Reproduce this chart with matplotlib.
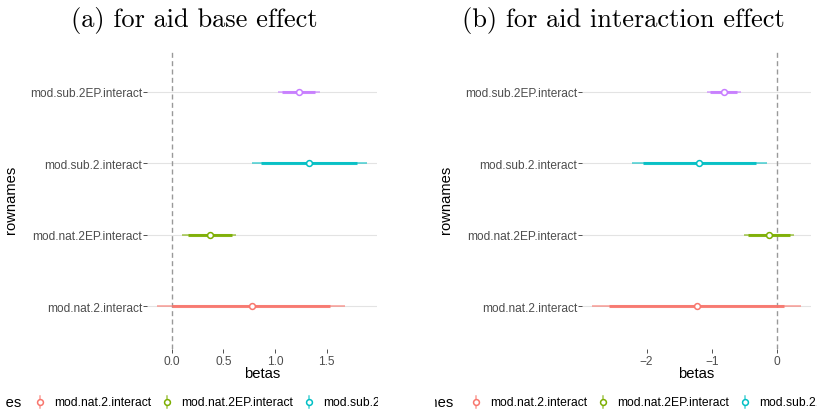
import numpy as np
import matplotlib
matplotlib.use("Agg")
import matplotlib.pyplot as plt

plt.rcParams["font.family"] = ["Liberation Sans", "DejaVu Sans"]

# coefficient rows (bottom to top) and their ggplot hue colours
rows   = ["mod.nat.2.interact", "mod.nat.2EP.interact",
          "mod.sub.2.interact", "mod.sub.2EP.interact"]
colors = ["#F8766D", "#7CAE00", "#00BFC4", "#C77CFF"]

# (a) base effect: estimate, 95% and 90% intervals
base_est  = [0.774, 0.365, 1.326, 1.23]
base_lo95 = [-0.139, 0.103, 0.774, 1.03]
base_hi95 = [1.68, 0.626, 1.885, 1.43]
base_lo90 = [0.006, 0.152, 0.861, 1.07]
base_hi90 = [1.536, 0.578, 1.794, 1.39]

# (b) interaction effect
int_est  = [-1.23, -0.118, -1.19, -0.812]
int_lo95 = [-2.83, -0.50, -2.22, -1.077]
int_hi95 = [0.363, 0.26, -0.158, -0.557]
int_lo90 = [-2.57, -0.44, -2.05, -1.026]
int_hi90 = [0.107, 0.20, -0.322, -0.618]

W, H = 817, 414
fig = plt.figure(figsize=(W / 100, H / 100), dpi=100)


def px_axes(x0, y0, x1, y1):
    # axes from pixel box (top-left origin)
    return fig.add_axes([x0 / W, 1 - y1 / H, (x1 - x0) / W, (y1 - y0) / H])


def coefplot(ax, est, lo95, hi95, lo90, hi90, ticks, fmt):
    ypos = np.arange(1, len(rows) + 1)
    ax.axvline(0, color="#999999", lw=1.0, ls=(0, (3.6, 2.4)), zorder=1)
    for i, y in enumerate(ypos):
        c = colors[i]
        ax.plot([lo95[i], hi95[i]], [y, y], color=c, lw=1.3, alpha=0.6,
                solid_capstyle="butt", zorder=2)
        ax.plot([lo90[i], hi90[i]], [y, y], color=c, lw=2.2, alpha=0.9,
                solid_capstyle="butt", zorder=3)
        ax.plot(est[i], y, "o", mfc="white", mec=c, ms=4.2, mew=1.1, zorder=4)

    lo, hi = min(lo95), max(hi95)
    pad = 0.05 * (hi - lo)
    ax.set_xlim(lo - pad, hi + pad)
    ax.set_ylim(0.4, len(rows) + 0.6)
    ax.set_yticks(ypos)
    ax.set_yticklabels(rows)
    ax.set_xticks(ticks)
    ax.set_xticklabels([fmt.format(t).replace("-", "\u2212") for t in ticks])
    ax.grid(axis="y", color="#E3E3E3", lw=0.8, zorder=0)
    ax.set_axisbelow(True)
    for s in ax.spines.values():
        s.set_visible(False)
    ax.tick_params(axis="both", length=2.7, width=0.6, color="#333333",
                   labelcolor="#4D4D4D", labelsize=8.6)
    ax.tick_params(axis="x", pad=1.5)
    ax.tick_params(axis="y", pad=0.8)
    ax.set_xlabel("betas", fontsize=10.6, color="black")
    ax.set_ylabel("rownames", fontsize=10.6, color="black")
    ax.xaxis.set_label_coords(0.5, -0.08)
    ax.xaxis.label.set_va("center")


def legend_strip(x0, x1, title_end, first_key):
    # horizontal legend, cut off at the strip edges
    lax = px_axes(x0, 386, x1, 414)
    lax.set_xlim(x0, x1)
    lax.set_ylim(0, 28)
    lax.axis("off")
    yc = 11
    renderer = fig.canvas.get_renderer()
    lax.text(title_end, yc, "rownames", ha="right", va="center",
             fontsize=10.6, clip_on=True)
    x = first_key
    for lab, c in zip(rows, colors):
        lax.plot([x, x], [yc - 6, yc + 6], color=c, lw=1.1, alpha=0.7, clip_on=True)
        lax.plot(x, yc, "o", mfc="white", mec=c, ms=4.2, mew=1.1, clip_on=True)
        t = lax.text(x + 14, yc, lab, ha="left", va="center", fontsize=8.7,
                     clip_on=True)
        w = t.get_window_extent(renderer).width
        x = x + 14 + w + 16


ax_a = px_axes(147, 50, 377, 350)
coefplot(ax_a, base_est, base_lo95, base_hi95, base_lo90, base_hi90,
         [0, 0.5, 1.0, 1.5], "{:.1f}")
ax_a.yaxis.set_label_coords((18 - 147) / 230, 0.5)

ax_b = px_axes(582, 50, 811, 350)
coefplot(ax_b, int_est, int_lo95, int_hi95, int_lo90, int_hi90,
         [-2, -1, 0], "{:.0f}")
ax_b.yaxis.set_label_coords((453 - 582) / 229, 0.5)

fig.text(194 / W, 1 - 27 / H, "(a) for aid base effect", ha="center",
         va="baseline", fontfamily="cmr10", fontsize=19)
fig.text(623 / W, 1 - 27 / H, "(b) for aid interaction effect", ha="center",
         va="baseline", fontfamily="cmr10", fontsize=19)

legend_strip(5, 378, 21, 40)
legend_strip(435, 817, 453, 476)

fig.savefig("out.png", dpi=100)
